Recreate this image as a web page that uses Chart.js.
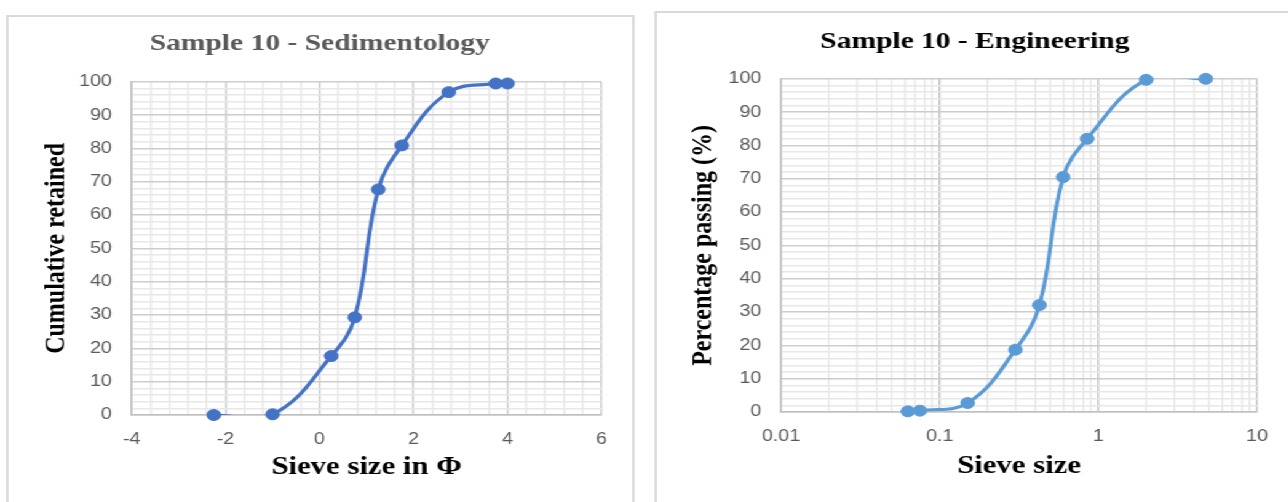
<!DOCTYPE html>
<html>
<head>
<meta charset="utf-8">
<script src="https://cdn.jsdelivr.net/npm/chart.js@4.4.1/dist/chart.umd.min.js"></script>
<style>
  body { margin: 0; background: #fff; overflow: hidden; }
  #stage { position: absolute; left: 0; top: 0; width: 1048px; height: 502px; transform: scaleX(1.23); transform-origin: 0 0; }
  .panel { position: absolute; border: 2px solid #d9d9d9; box-sizing: border-box; background: #fff; }
  canvas { position: absolute; }
</style>
</head>
<body>
<div id="stage">
  <div class="panel" style="left:5px; top:15px; width:511px; height:520px;"></div>
  <div class="panel" style="left:532px; top:11px; width:600px; height:520px;"></div>
  <canvas id="sedChart" width="512" height="488" style="left:4px; top:14px;"></canvas>
  <canvas id="engChart" width="513" height="492" style="left:536px; top:10px;"></canvas>
</div>
<script>
// sieve sizes in phi units and cumulative % retained
var phi = [-2.25, -1, 0.25, 0.75, 1.25, 1.75, 2.75, 3.75, 4];
var retained = [0, 0.2, 17.7, 29.3, 67.7, 80.9, 96.9, 99.5, 99.5];

// sieve sizes in mm and % passing
var sieveMm = [0.063, 0.075, 0.15, 0.3, 0.425, 0.6, 0.85, 2, 4.75];
var passing = [0.2, 0.4, 2.7, 18.7, 32.1, 70.5, 82.0, 99.7, 100];

var yTicks = [0, 10, 20, 30, 40, 50, 60, 70, 80, 90, 100];
var phiTicks = [-4, -2, 0, 2, 4, 6];
var mmTicks = [0.01, 0.1, 1, 10];

var MAJOR = '#cdcdcd';
var MINOR = '#e8e8e8';
var tickFont = { family: '"Liberation Sans", Arial, sans-serif', size: 16 };
var titleFont = { family: '"Liberation Serif", "Times New Roman", serif', size: 24, weight: 'bold' };
var xTitleFont = { family: '"Liberation Serif", "Times New Roman", serif', size: 25, weight: 'bold' };
var yTitleFont = { family: '"Liberation Serif", "Times New Roman", serif', size: 24, weight: 'bold' };

function near(v, list) {
  for (var i = 0; i < list.length; i++) {
    if (Math.abs(v - list[i]) < 1e-6) return true;
  }
  return false;
}

function points(xs, ys) {
  var out = [];
  for (var i = 0; i < xs.length; i++) out.push({ x: xs[i], y: ys[i] });
  return out;
}

function yScale(title, titlePad, axisWidth) {
  return {
    min: 0, max: 100,
    ticks: {
      stepSize: 2, autoSkip: false, color: '#595959', font: tickFont, padding: 16,
      callback: function(v) { return near(v, yTicks) ? String(Math.round(v)) : ''; }
    },
    grid: {
      drawTicks: false, lineWidth: 1.5,
      color: function(c) { return near(c.tick.value, yTicks) ? MAJOR : MINOR; }
    },
    border: { color: '#c0c0c0', width: 1.5 },
    title: { display: true, text: title, color: '#000', font: yTitleFont, padding: { top: titlePad } },
    afterFit: function(s) { s.width = axisWidth; }
  };
}

function makeChart(id, color, xs, ys, xScale, yAxis, title, titleColor, titlePad) {
  var data = points(xs, ys);
  return new Chart(document.getElementById(id), {
    type: 'line',
    data: {
      datasets: [
        {
          data: data, showLine: false, clip: false,
          pointRadius: 5.5, pointBorderWidth: 1,
          pointBackgroundColor: color, pointBorderColor: color
        },
        {
          data: data, borderColor: color, borderWidth: 3.2, pointRadius: 0,
          tension: 0.4, clip: 0
        }
      ]
    },
    options: {
      responsive: false,
      animation: false,
      layout: { padding: { left: 27, right: 27, top: 0, bottom: 0 } },
      elements: { line: { capBezierPoints: false } },
      plugins: {
        legend: { display: false },
        tooltip: { enabled: false },
        title: {
          display: true, text: title, color: titleColor,
          font: titleFont, padding: titlePad
        }
      },
      scales: { x: xScale, y: yAxis }
    }
  });
}

var sedX = {
  type: 'linear', min: -4, max: 6,
  ticks: {
    stepSize: 0.4, autoSkip: false, maxRotation: 0, color: '#595959', font: tickFont, padding: 15,
    callback: function(v) { return near(v, phiTicks) ? String(Math.round(v)) : ''; }
  },
  grid: {
    drawTicks: false, lineWidth: 1.5,
    color: function(c) { return near(c.tick.value, phiTicks) ? MAJOR : MINOR; }
  },
  border: { color: '#c0c0c0', width: 1.5 },
  title: { display: true, text: 'Sieve size in Φ', color: '#000', font: xTitleFont, padding: { bottom: 19 } },
  afterFit: function(s) { s.height = 87; }
};

var engX = {
  type: 'logarithmic', min: 0.01, max: 10,
  afterBuildTicks: function(s) {
    // 1..9 in every decade, like a log paper grid
    var t = [];
    for (var e = -2; e < 1; e++) {
      for (var m = 1; m < 10; m++) t.push({ value: +(m * Math.pow(10, e)).toPrecision(3) });
    }
    t.push({ value: 10 });
    s.ticks = t;
  },
  ticks: {
    autoSkip: false, maxRotation: 0, color: '#595959', font: tickFont, padding: 15,
    callback: function(v) { return near(v, mmTicks) ? String(v) : ''; }
  },
  grid: {
    drawTicks: false, lineWidth: 1.5,
    color: function(c) { return near(c.tick.value, mmTicks) ? '#c4c4c4' : MINOR; }
  },
  border: { color: '#c0c0c0', width: 1.5 },
  title: { display: true, text: 'Sieve size', color: '#000', font: xTitleFont, padding: { bottom: 20 } },
  afterFit: function(s) { s.height = 90; }
};

makeChart('sedChart', '#4472C4', phi, retained, sedX,
  yScale('Cumulative retained', 0, 76),
  'Sample 10 - Sedimentology', '#595959', { top: 15, bottom: 24 });

makeChart('engChart', '#5B9BD5', sieveMm, passing, engX,
  yScale('Percentage passing (%)', -6, 72),
  'Sample 10 - Engineering', '#000', { top: 17, bottom: 23 });
</script>
</body>
</html>
